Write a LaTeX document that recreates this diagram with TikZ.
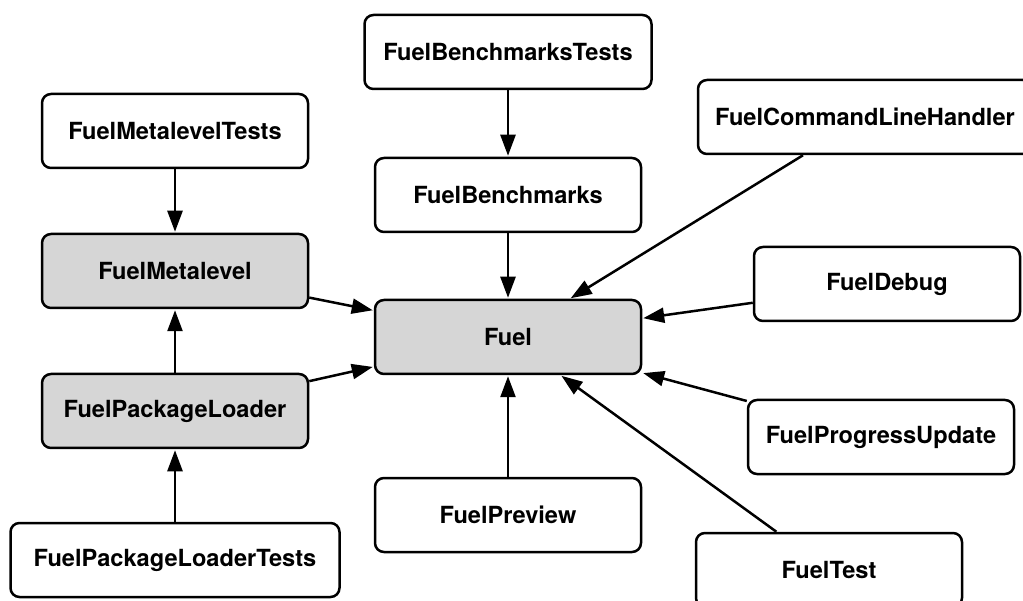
\documentclass[tikz,border=0pt]{standalone}
\usepackage{fontspec}
\setmainfont{TeX Gyre Heros}
\usetikzlibrary{arrows.meta}
\definecolor{pkggray}{HTML}{D6D6D6}
\tikzset{
	pkg/.style={draw, line width=2.5pt, rounded corners=9pt, fill=white,
		minimum width=266pt, minimum height=74pt, inner xsep=16pt,
		font=\fontsize{23.6}{28}\selectfont\bfseries},
	core/.style={pkg, fill=pkggray},
	dep/.style={-{Triangle[length=21pt,width=15pt]}, line width=2.5pt, shorten >=1pt},
}
\begin{document}
\begin{tikzpicture}[x=1pt, y=-1pt]
		\useasboundingbox (0,0) rectangle (1023,601);
		% core packages
		\node[core] (fuel) at (508,337) {Fuel};
		\node[core] (meta) at (175,271) {FuelMetalevel};
		\node[core] (loader) at (175,411) {FuelPackageLoader};
		% other packages
		\node[pkg, minimum width=287pt] (benchtests) at (508,52) {FuelBenchmarksTests};
		\node[pkg] (bench) at (508,195) {FuelBenchmarks};
		\node[pkg] (metatests) at (175,131) {FuelMetalevelTests};
		\node[pkg, minimum width=329pt] (loadertests) at (175,560) {FuelPackageLoaderTests};
		\node[pkg, minimum width=334pt] (clh) at (865,117) {FuelCommandLineHandler};
		\node[pkg] (debug) at (887,284) {FuelDebug};
		\node[pkg] (progress) at (881,437) {FuelProgressUpdate};
		\node[pkg] (preview) at (508,515) {FuelPreview};
		\node[pkg] (test) at (829,570) {FuelTest};
		% dependencies
		\draw[dep] (benchtests) -- (bench);
		\draw[dep] (bench) -- (fuel);
		\draw[dep] (metatests) -- (meta);
		\draw[dep] (loader) -- (meta);
		\draw[dep] (loadertests) -- (loader);
		\draw[dep] (meta) -- (fuel);
		\draw[dep] (loader) -- (fuel);
		\draw[dep] (clh) -- (fuel);
		\draw[dep] (debug) -- (fuel);
		\draw[dep] (progress) -- (fuel);
		\draw[dep] (preview) -- (fuel);
		\draw[dep] (test) -- (fuel);
	\end{tikzpicture}
\end{document}
